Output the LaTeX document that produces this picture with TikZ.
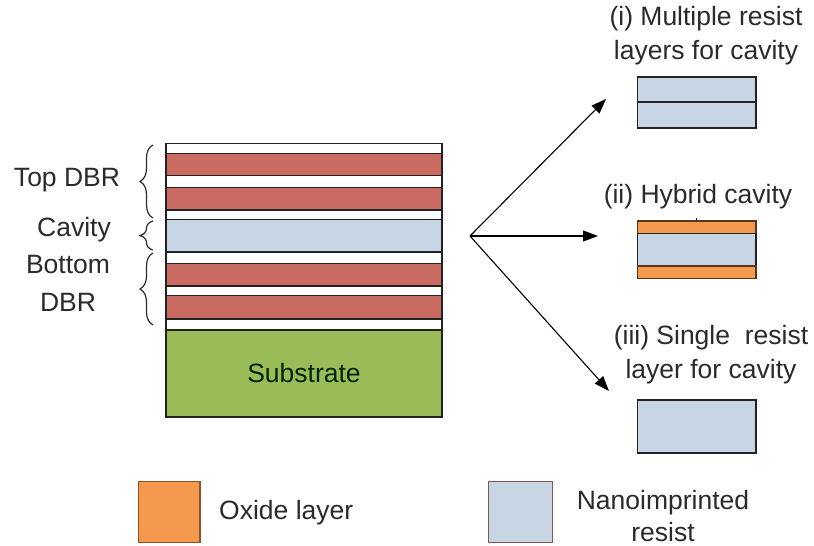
\documentclass[tikz,border=0pt]{standalone}
\usepackage{fontspec}
\setmainfont{Liberation Sans}
\usetikzlibrary{arrows.meta,decorations.pathreplacing}
\definecolor{dbrred}{HTML}{C96A63}
\definecolor{resistblue}{HTML}{C7D5E5}
\definecolor{oxideorange}{HTML}{F5994F}
\definecolor{subgreen}{HTML}{9BBB59}
\definecolor{txtgray}{HTML}{2A2A2A}
\definecolor{edgedark}{HTML}{222222}
\tikzset{
  lbl/.style={text=txtgray, font=\fontsize{26.5}{34}\selectfont, align=center, inner sep=0pt},
  layer/.style={draw=edgedark, line width=1.6pt},
  bracket/.style={draw=txtgray, line width=1.2pt, decorate, decoration={brace, amplitude=13pt}},
  branch/.style={draw=black, line width=1.1pt, -{Triangle[length=15pt,width=11pt]}},
}
\begin{document}
\begin{tikzpicture}[x=1pt,y=-1pt]
\useasboundingbox (0,0) rectangle (814,546);

% --- layer stack: top DBR, cavity, bottom DBR, substrate
\foreach \ytop/\ybot/\col in {143.3/153.3/white, 153.3/175.3/dbrred, 175.3/187.3/white,
  187.3/210/dbrred, 210/219.3/white, 219.3/252/resistblue, 252/263.3/white,
  263.3/286/dbrred, 286/295.3/white, 295.3/318.7/dbrred, 318.7/330/white,
  330/416.7/subgreen}
  \filldraw[layer, fill=\col] (166,\ytop) rectangle (442,\ybot);
\node[lbl, text=black!85!green] (sub) at (304,373) {Substrate};

% --- braces and their labels
\draw[bracket] (153,218) -- (153,145);
\draw[bracket] (153,250) -- (153,221);
\draw[bracket] (153,325) -- (153,253);
\node[lbl] (top) at (67,180) {Top DBR};
\node[lbl] (cav) at (74,230) {Cavity};
\node[lbl, font=\fontsize{26.5}{38}\selectfont] (bot) at (68,283) {Bottom\\DBR};

% --- branching arrows to the three cavity variants
\coordinate (fork) at (470,236);
\coordinate (tipi) at (606,99);
\coordinate (tipii) at (598,236);
\coordinate (tipiii) at (609,391);
\draw[branch] (fork) -- (tipi);
\draw[branch] (fork) -- (tipii);
\draw[branch] (fork) -- (tipiii);

% (i) two stacked resist layers
\node[lbl] (ti) at (706,36) {(i) Multiple resist\\layers for cavity};
\filldraw[layer, fill=resistblue] (637.3,76.7) rectangle (755.7,101.7);
\filldraw[layer, fill=resistblue] (637.3,101.7) rectangle (755.7,127.7);

% (ii) resist between two oxide layers
\node[lbl] (tii) at (698,197) {(ii) Hybrid cavity};
\filldraw[layer, fill=oxideorange, draw=oxideorange!35!black] (637.3,220.7) rectangle (755.7,233.3);
\filldraw[layer, fill=resistblue] (637.3,233.3) rectangle (755.7,266);
\filldraw[layer, fill=oxideorange, draw=oxideorange!35!black] (637.3,266) rectangle (755.7,278.3);
\draw[edgedark, line width=1pt] (696,218) -- (696,221);

% (iii) single resist layer
\node[lbl] (tiii) at (711,355) {(iii) Single\ \ resist\\layer for cavity};
\filldraw[layer, fill=resistblue] (637.3,400) rectangle (755.7,452.7);

% --- legend
\filldraw[fill=oxideorange, draw=oxideorange!55!black, line width=1.2pt] (138.3,481.7) rectangle (200,542.7);
\node[lbl, anchor=west] (lox) at (219,513) {Oxide layer};
\filldraw[fill=resistblue, draw=black!45!red!35!gray, line width=1.2pt] (488.3,481.7) rectangle (552.7,542.7);
\node[lbl, font=\fontsize{26.5}{32}\selectfont] (lres) at (663,516) {Nanoimprinted\\resist};
\end{tikzpicture}
\end{document}
